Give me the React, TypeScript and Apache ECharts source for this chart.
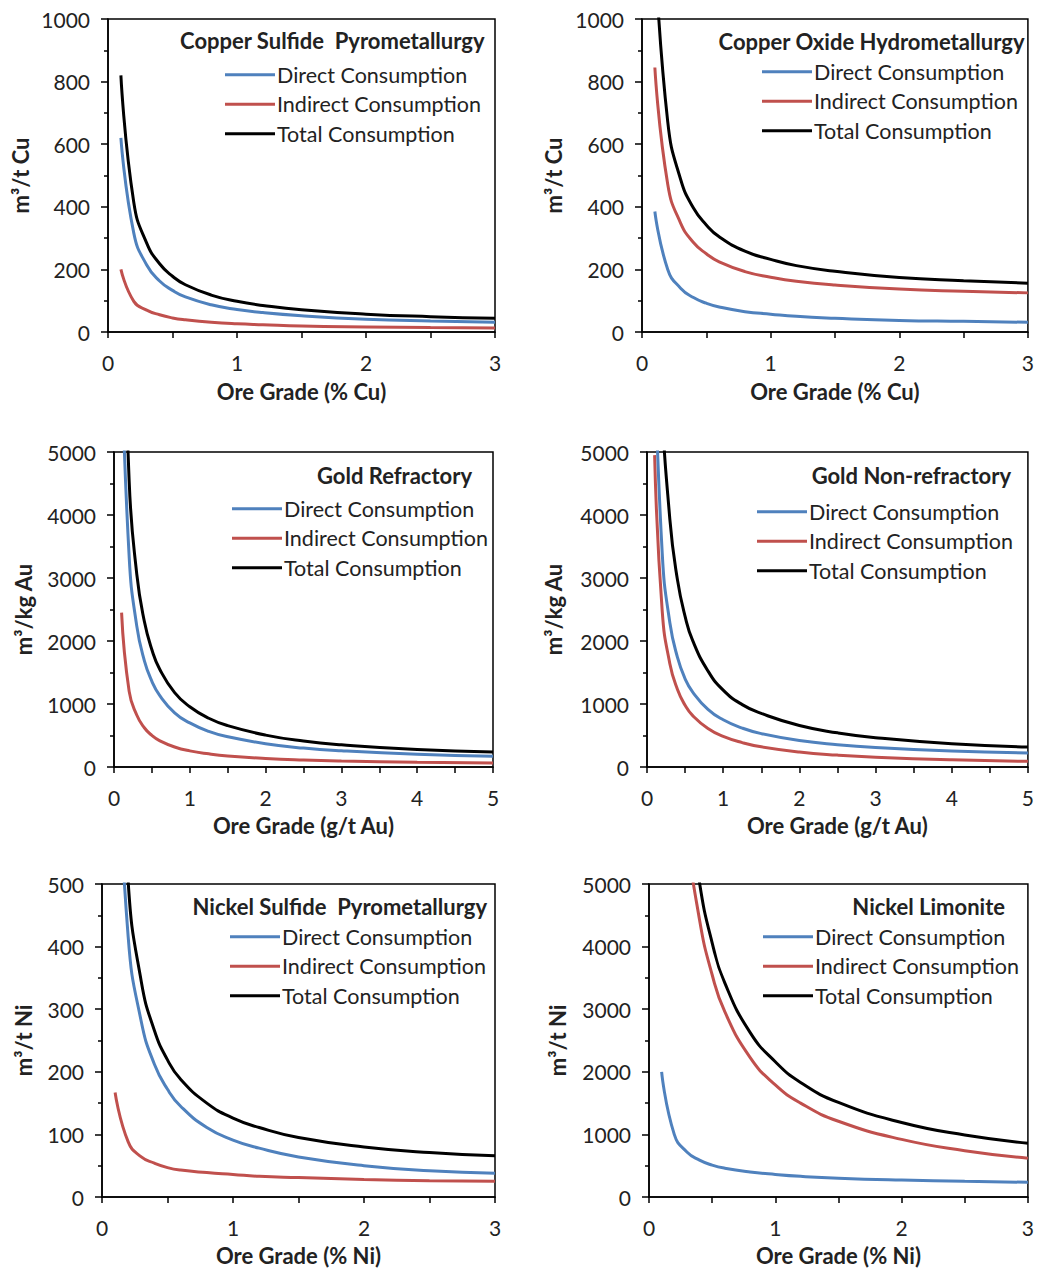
import React, { useEffect, useRef } from "react";
import * as echarts from "echarts";

// ---------- data ----------
const seriesNames = ["Direct Consumption", "Indirect Consumption", "Total Consumption"];
const panelTitles = [
  "Copper Sulfide  Pyrometallurgy",
  "Copper Oxide Hydrometallurgy",
  "Gold Refractory",
  "Gold Non-refractory",
  "Nickel Sulfide  Pyrometallurgy",
  "Nickel Limonite",
];
const xAxisNames = ["Ore Grade (% Cu)", "Ore Grade (% Cu)", "Ore Grade (g/t Au)", "Ore Grade (g/t Au)", "Ore Grade (% Ni)", "Ore Grade (% Ni)"];
const yAxisNames = ["m³/t Cu", "m³/t Cu", "m³/kg Au", "m³/kg Au", "m³/t Ni", "m³/t Ni"];
const xMaxes = [3, 3, 5, 5, 3, 3];
const yMaxes = [1000, 1000, 5000, 5000, 500, 5000];
const yIntervals = [200, 200, 1000, 1000, 100, 1000];

const xCu = [0.1, 0.2, 0.3, 0.4, 0.5, 0.6, 0.8, 1.0, 1.2, 1.5, 2.0, 2.5, 3.0];
const xAu = [0.1, 0.2, 0.3, 0.4, 0.5, 0.6, 0.8, 1.0, 1.25, 1.5, 2.0, 2.5, 3.0, 4.0, 5.0];
const xNi = [0.1, 0.2, 0.3, 0.4, 0.5, 0.6, 0.8, 1.0, 1.2, 1.5, 2.0, 2.5, 3.0];

// Copper sulfide pyrometallurgy
const cuSulfDirect = [620, 316, 214, 163, 133, 112, 87, 72, 62, 52, 41, 35, 31];
const cuSulfIndirect = [200, 98, 70, 55, 45, 39, 31, 26, 23, 19, 16, 14, 13];
const cuSulfTotal = [820, 414, 284, 218, 178, 151, 118, 98, 85, 71, 57, 49, 44];

// Copper oxide hydrometallurgy
const cuOxDirect = [385, 200, 140, 110, 92, 80, 65, 57, 50, 44, 37, 34, 31];
const cuOxIndirect = [845, 472, 348, 286, 250, 224, 193, 175, 162, 150, 137, 130, 125];
const cuOxTotal = [1230, 672, 488, 396, 342, 304, 258, 232, 212, 194, 174, 164, 156];

// Gold refractory
const auRefDirect = [6640, 3340, 2240, 1690, 1360, 1140, 860, 700, 565, 480, 370, 300, 257, 202, 170];
const auRefIndirect = [2450, 1200, 826, 623, 501, 420, 318, 256, 209, 176, 136, 111, 95, 75, 63];
const auRefTotal = [9090, 4540, 3066, 2313, 1861, 1560, 1180, 956, 774, 656, 506, 411, 352, 277, 240];

// Gold non-refractory
const auNonDirect = [6700, 3390, 2290, 1740, 1400, 1190, 915, 750, 618, 530, 420, 354, 310, 255, 222];
const auNonIndirect = [4950, 2470, 1640, 1230, 980, 815, 610, 486, 387, 320, 238, 189, 156, 115, 90];
const auNonTotal = [11650, 5860, 3930, 2970, 2390, 2005, 1525, 1220, 990, 850, 658, 543, 466, 370, 318];

// Nickel sulfide pyrometallurgy
const niSulfDirect = [820, 415, 280, 212, 172, 145, 111, 91, 78, 64, 50, 42, 38];
const niSulfIndirect = [167, 88, 64, 54, 47, 43, 39, 36, 33, 31, 28, 26, 25];
const niSulfTotal = [987, 503, 344, 266, 219, 188, 150, 126, 111, 95, 80, 71, 66];

// Nickel limonite
const niLimDirect = [2000, 1000, 720, 590, 510, 460, 400, 360, 330, 300, 270, 250, 235];
const niLimIndirect = [17600, 8800, 5890, 4430, 3550, 2960, 2230, 1790, 1500, 1210, 920, 740, 620];
const niLimTotal = [19600, 9800, 6610, 5020, 4060, 3420, 2630, 2160, 1830, 1510, 1190, 990, 860];

const panelX = [xCu, xCu, xAu, xAu, xNi, xNi];
const panelSeries = [
  [cuSulfDirect, cuSulfIndirect, cuSulfTotal],
  [cuOxDirect, cuOxIndirect, cuOxTotal],
  [auRefDirect, auRefIndirect, auRefTotal],
  [auNonDirect, auNonIndirect, auNonTotal],
  [niSulfDirect, niSulfIndirect, niSulfTotal],
  [niLimDirect, niLimIndirect, niLimTotal],
];

// ---------- layout / style ----------
const W = 1037;
const H = 1268;
const FONT = "Lato, 'Open Sans', sans-serif";
const TEXT = "#222";
const colors = ["#4F81BD", "#C0504D", "#000000"];

const grids = [
  { left: 108, top: 19, width: 387, height: 313 },
  { left: 642, top: 19, width: 387, height: 313 },
  { left: 114, top: 452, width: 379, height: 315 },
  { left: 647, top: 452, width: 382, height: 315 },
  { left: 102, top: 884, width: 393, height: 313 },
  { left: 649, top: 884, width: 381, height: 313 },
];
const yNameGaps = [77, 78, 80, 83, 68, 81];
const xNameGaps = [48, 48, 47, 47, 47, 47];
const legendPos = [
  { left: 225, top: 60 },
  { left: 762, top: 57 },
  { left: 232, top: 494 },
  { left: 757, top: 497 },
  { left: 230, top: 922 },
  { left: 763, top: 922 },
];
const titlePos = [
  { right: 552, top: 29 },
  { right: 12, top: 30 },
  { right: 565, top: 464 },
  { right: 26, top: 464 },
  { right: 550, top: 895 },
  { right: 32, top: 895 },
];

function buildOption() {
  const grid = grids.map((g) => ({
    ...g,
    show: true,
    borderColor: "#000",
    borderWidth: 1.5,
    backgroundColor: "transparent",
    containLabel: false,
  }));

  const xAxis = grids.map((_, i) => ({
    type: "value",
    gridIndex: i,
    min: 0,
    max: xMaxes[i],
    interval: 1,
    name: xAxisNames[i],
    nameLocation: "middle",
    nameGap: xNameGaps[i],
    nameTextStyle: { fontFamily: FONT, fontSize: 22, fontWeight: "bold", color: TEXT },
    axisLine: { show: true, onZero: false, lineStyle: { color: "#000", width: 1.5 } },
    axisTick: { show: true, inside: false, length: 6, lineStyle: { color: "#000", width: 1.5 } },
    minorTick: { show: true, splitNumber: 2, length: 6, lineStyle: { color: "#000", width: 1.5 } },
    axisLabel: { fontFamily: FONT, fontSize: 21, color: TEXT, margin: 20, formatter: (v: number) => String(v) },
    splitLine: { show: false },
    minorSplitLine: { show: false },
  }));

  const yAxis = grids.map((_, i) => ({
    type: "value",
    gridIndex: i,
    min: 0,
    max: yMaxes[i],
    interval: yIntervals[i],
    name: yAxisNames[i],
    nameLocation: "middle",
    nameGap: yNameGaps[i],
    nameTextStyle: { fontFamily: FONT, fontSize: 22, fontWeight: "bold", color: TEXT },
    axisLine: { show: true, onZero: false, lineStyle: { color: "#000", width: 1.5 } },
    axisTick: { show: true, inside: false, length: 7, lineStyle: { color: "#000", width: 1.5 } },
    minorTick: { show: true, splitNumber: 2, length: 4, lineStyle: { color: "#000", width: 1.5 } },
    axisLabel: { fontFamily: FONT, fontSize: 21, color: TEXT, margin: 18, formatter: (v: number) => String(v) },
    splitLine: { show: false },
    minorSplitLine: { show: false },
  }));

  const series: any[] = [];
  panelSeries.forEach((trio, i) => {
    trio.forEach((vals, k) => {
      series.push({
        type: "line",
        name: seriesNames[k],
        xAxisIndex: i,
        yAxisIndex: i,
        data: panelX[i].map((x, j) => [x, vals[j]]),
        showSymbol: false,
        symbol: "none",
        smooth: 0.5,
        clip: true,
        lineStyle: { color: colors[k], width: 3 },
        itemStyle: { color: colors[k] },
        z: 5 - k,
      });
    });
  });

  const legend = legendPos.map((p) => ({
    ...p,
    orient: "vertical",
    padding: 0,
    itemGap: 0,
    icon: "rect",
    itemWidth: 50,
    itemHeight: 3,
    selectedMode: false,
    data: seriesNames,
    textStyle: { fontFamily: FONT, fontSize: 21.5, color: TEXT, lineHeight: 29.5, padding: [0, 0, 0, -3] },
  }));

  const title = titlePos.map((p, i) => ({
    ...p,
    text: panelTitles[i],
    padding: 0,
    textStyle: { fontFamily: FONT, fontSize: 22, fontWeight: "bold", color: TEXT },
  }));

  return {
    animation: false,
    backgroundColor: "#fff",
    title,
    legend,
    grid,
    xAxis,
    yAxis,
    series,
  };
}

export default function App() {
  const ref = useRef<HTMLDivElement>(null);
  useEffect(() => {
    document.body.style.margin = "0";
    if (!ref.current) return;
    const chart = echarts.init(ref.current, null, { renderer: "svg", width: W, height: H });
    chart.setOption(buildOption() as any);
    return () => chart.dispose();
  }, []);
  return <div ref={ref} style={{ width: W, height: H }} />;
}
